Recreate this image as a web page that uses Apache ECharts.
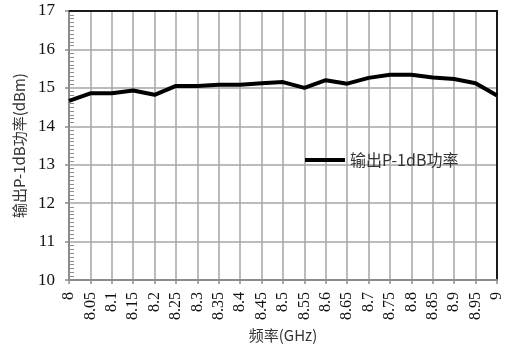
<!DOCTYPE html>
<html><head><meta charset="utf-8">
<script src="https://cdn.jsdelivr.net/npm/echarts@6/dist/echarts.min.js"></script>
<style>html,body{margin:0;padding:0;background:#fff}#c{width:514px;height:348px}</style>
</head><body><div id="c"></div>
<script>
var categories = ['8','8.05','8.1','8.15','8.2','8.25','8.3','8.35','8.4','8.45','8.5','8.55','8.6','8.65','8.7','8.75','8.8','8.85','8.9','8.95','9'];
var p1dB = [14.66,14.86,14.86,14.93,14.82,15.05,15.05,15.08,15.08,15.12,15.15,15.0,15.2,15.11,15.26,15.34,15.34,15.27,15.23,15.12,14.8];
var seriesName = '输出P-1dB功率';
var yTicks = {min:10, max:17, interval:1};

var chart = echarts.init(document.getElementById('c'));
var serifFont = 'Liberation Serif';
var sansFont = "'Noto Sans CJK SC', 'Noto Sans', sans-serif";
chart.setOption({
  animation:false,
  grid:{left:69, right:17, top:11, bottom:66},
  legend:{left:305, top:152, padding:0, itemWidth:40, itemHeight:14,
    textStyle:{fontFamily:sansFont, fontSize:16, color:'#333'},
    data:[{name:seriesName, icon:'path://M0,0H40V4H0Z'}]},
  xAxis:[{
    type:'category', data:categories, boundaryGap:false,
    name:'频率(GHz)', nameLocation:'middle', nameGap:37,
    nameTextStyle:{fontFamily:sansFont, fontSize:15, color:'#333'},
    axisLine:{lineStyle:{color:'#8c8c8c', width:2}},
    axisTick:{show:true, length:4, lineStyle:{color:'#8c8c8c', width:1.5}},
    axisLabel:{rotate:90, fontFamily:serifFont, fontSize:16, color:'#111', margin:12, interval:0},
    splitLine:{show:true, interval:0, lineStyle:{color:'#a6a6a6', width:1.5}}
  },{
    type:'category', data:categories, boundaryGap:false, position:'top',
    axisLine:{lineStyle:{color:'#1a1a1a', width:2}},
    axisTick:{show:false}, axisLabel:{show:false}, splitLine:{show:false}
  }],
  yAxis:[{
    type:'value', min:yTicks.min, max:yTicks.max, interval:yTicks.interval,
    name:'输出P-1dB功率(dBm)', nameLocation:'middle', nameGap:40,
    nameTextStyle:{fontFamily:sansFont, fontSize:15, color:'#333'},
    axisLine:{show:true, lineStyle:{color:'#8c8c8c', width:2}},
    axisTick:{show:true, length:4, lineStyle:{color:'#8c8c8c', width:1.5}},
    axisLabel:{fontFamily:serifFont, fontSize:17, color:'#111', margin:14},
    splitLine:{show:true, lineStyle:{color:'#a6a6a6', width:1.5}}
  },{
    type:'value', min:yTicks.min, max:yTicks.max, interval:yTicks.interval, position:'left',
    axisLine:{show:false},
    axisTick:{show:false, inside:true},
    minorTick:{show:true, splitNumber:10, length:5, lineStyle:{color:'#8c8c8c', width:1}},
    axisLabel:{show:false}, splitLine:{show:false}
  },{
    type:'value', min:yTicks.min, max:yTicks.max, interval:yTicks.interval, position:'right',
    axisLine:{show:true, lineStyle:{color:'#1a1a1a', width:2}},
    axisTick:{show:false}, axisLabel:{show:false}, splitLine:{show:false}
  }],
  series:[{
    name:seriesName, type:'line', data:p1dB, xAxisIndex:0, yAxisIndex:0,
    symbol:'none', lineStyle:{color:'#000', width:4}, itemStyle:{color:'#000'}
  }]
});
</script></body></html>
